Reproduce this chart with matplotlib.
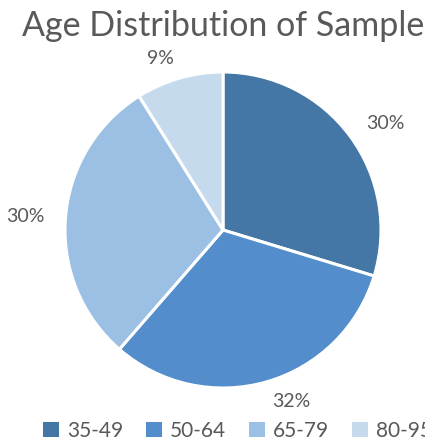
import matplotlib.pyplot as plt
from matplotlib.patches import Patch

age_groups = ["35-49", "50-64", "65-79", "80-95"]
shares = [30, 32, 30, 9]
colors = ["#4476a6", "#548dcb", "#9bc0e3", "#c6daee"]

plt.rcParams["font.family"] = ["Lato", "DejaVu Sans"]

fig = plt.figure(figsize=(4.25, 4.43), dpi=100)
# pie area: centre ~ (223, 230) px, radius ~158 px
ax = fig.add_axes([65 / 425, 55 / 443, 316 / 425, 316 / 443])

wedges, texts = ax.pie(
    shares,
    labels=[f"{v}%" for v in shares],
    colors=colors,
    startangle=90,
    counterclock=False,
    labeldistance=1.13,
    wedgeprops=dict(edgecolor="white", linewidth=2.2),
    textprops=dict(color="#595959", fontsize=14),
)
for t in texts:
    t.set_clip_on(False)
ax.set_xlim(-1, 1)
ax.set_ylim(-1, 1)
ax.set_aspect("equal")

fig.text(0.525, 0.942, "Age Distribution of Sample", ha="center", va="center",
         fontsize=24.5, color="#595959")

handles = [Patch(facecolor=c, edgecolor="none") for c in colors]
fig.legend(handles, age_groups, loc="center left", bbox_to_anchor=(0.057, 0.028),
           ncol=4, frameon=False, fontsize=15, labelcolor="#595959",
           handlelength=0.75, handleheight=0.75, handletextpad=0.4, columnspacing=1.1)

fig.savefig("out.png", dpi=100)
